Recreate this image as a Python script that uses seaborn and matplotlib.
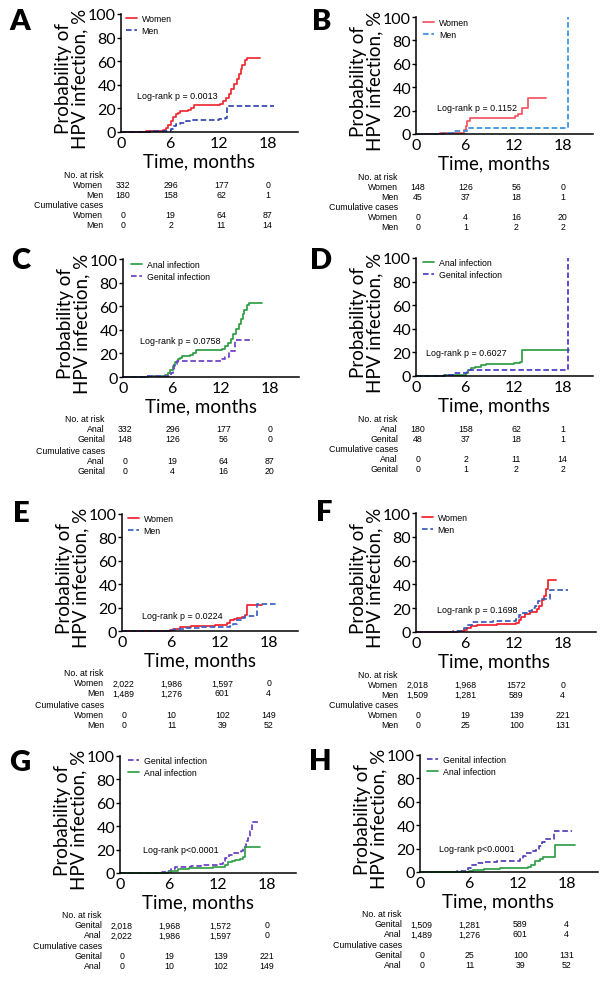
import numpy as np
import pandas as pd
import matplotlib
matplotlib.use("Agg")
import matplotlib.pyplot as plt
import seaborn as sns

sns.set_theme(style="white")
plt.rcParams['font.family'] = ['Lato', 'DejaVu Sans']
plt.rcParams['text.color'] = 'black'
plt.rcParams['axes.labelcolor'] = 'black'
plt.rcParams['xtick.color'] = 'black'
plt.rcParams['ytick.color'] = 'black'

# ---------------- data (cumulative probability of infection, %) ----------------
# sub-cohort 1 (panels A-D)
anal_w1_t = [0, 3.1, 4.7, 5.1, 5.5, 5.8, 6.1, 6.4, 6.7, 7.0, 7.3, 8.2, 8.6, 9.0, 12.2, 12.5, 12.9,
             13.2, 13.5, 13.9, 14.2, 14.5, 14.7, 14.9, 15.2, 15.4, 17.1]
anal_w1_v = [0, 0.5, 1, 2, 3.5, 6, 9, 12.5, 15, 16.5, 17.5, 18.5, 20.5, 22.5, 24, 26.5, 29,
             32, 36.5, 41, 45, 49, 53, 57, 61, 63, 63]
anal_m1_t = [0, 3.6, 5.5, 6.1, 6.4, 6.8, 7.3, 8.0, 8.6, 12.0, 12.7, 13.0, 18.8]
anal_m1_v = [0, 0.5, 1, 2.5, 5, 6.5, 8, 9.5, 10, 11, 12, 22, 22]
gen_w1_t = [0, 3.0, 5.5, 5.9, 6.1, 6.3, 6.6, 12.2, 12.5, 13.0, 13.7, 15.9]
gen_w1_v = [0, 0.5, 1, 3, 7, 11, 13.5, 15, 17, 22, 31, 31]
gen_m1_t = [0, 3.4, 4.5, 6.2, 18.7]
gen_m1_v = [0, 1, 2.5, 5.5, 100]
# sub-cohort 2 (panels E-H)
anal_w2_t = [0, 5.9, 6.2, 6.5, 7.1, 8.5, 9.8, 11.4, 12.4, 12.9, 13.3, 13.7, 14.1, 14.7, 15.1, 15.3, 17.2]
anal_w2_v = [0, 1, 1.5, 2, 3, 4, 4.5, 5, 5.5, 7, 9, 10, 11, 12, 14, 22, 22]
anal_m2_t = [0, 6.0, 6.2, 6.5, 7.8, 9.8, 12.2, 13.2, 13.6, 14.1, 14.7, 15.1, 16.6, 19.0]
anal_m2_v = [0, 0.5, 1, 2, 2.5, 3, 3.5, 4, 6, 9, 11, 12.5, 23.5, 23.5]
gen_w2_t = [0, 5.1, 5.5, 5.9, 6.3, 6.7, 7.5, 8.7, 9.9, 11.5, 12.3, 12.6, 12.9, 13.4, 14.0, 14.8,
            15.1, 15.4, 15.7, 16.0, 16.2, 17.2]
gen_w2_v = [0, 0.5, 0.8, 1.5, 3, 5, 5.5, 6, 6.5, 7, 7.5, 10, 13, 15, 17, 19, 22, 27, 30, 36, 44, 44]
gen_m2_t = [0, 4.6, 5.3, 5.9, 6.3, 6.9, 8.0, 9.5, 12.3, 12.6, 13.0, 13.6, 14.2, 14.6, 15.0, 15.3, 16.5, 18.7]
gen_m2_v = [0, 0.5, 1, 3, 6, 8, 8.5, 9, 11, 14, 16, 18, 20, 22, 26, 28, 35, 35]

x_ticks = [0, 6, 12, 18]
y_ticks = [0, 20, 40, 60, 80, 100]

# risk tables
A_rows = ["Women", "Men"]
A_risk = [["332", "296", "177", "0"], ["180", "158", "62", "1"]]
A_cum = [["0", "19", "64", "87"], ["0", "2", "11", "14"]]
B_rows = ["Women", "Men"]
B_risk = [["148", "126", "56", "0"], ["45", "37", "18", "1"]]
B_cum = [["0", "4", "16", "20"], ["0", "1", "2", "2"]]
C_rows = ["Anal", "Genital"]
C_risk = [["332", "296", "177", "0"], ["148", "126", "56", "0"]]
C_cum = [["0", "19", "64", "87"], ["0", "4", "16", "20"]]
D_rows = ["Anal", "Genital"]
D_risk = [["180", "158", "62", "1"], ["48", "37", "18", "1"]]
D_cum = [["0", "2", "11", "14"], ["0", "1", "2", "2"]]
E_rows = ["Women", "Men"]
E_risk = [["2,022", "1,986", "1,597", "0"], ["1,489", "1,276", "601", "4"]]
E_cum = [["0", "10", "102", "149"], ["0", "11", "39", "52"]]
F_rows = ["Women", "Men"]
F_risk = [["2,018", "1,968", "1572", "0"], ["1,509", "1,281", "589", "4"]]
F_cum = [["0", "19", "139", "221"], ["0", "25", "100", "131"]]
G_rows = ["Genital", "Anal"]
G_risk = [["2,018", "1,968", "1,572", "0"], ["2,022", "1,986", "1,597", "0"]]
G_cum = [["0", "19", "139", "221"], ["0", "10", "102", "149"]]
H_rows = ["Genital", "Anal"]
H_risk = [["1,509", "1,281", "589", "4"], ["1,489", "1,276", "601", "4"]]
H_cum = [["0", "25", "100", "131"], ["0", "11", "39", "52"]]

SOLID = "-"
DASH = (0, (3.2, 1.6))

W, H = 600, 995
fig = plt.figure(figsize=(W / 100, H / 100), dpi=100)
SMALL = ['Liberation Sans', 'DejaVu Sans']
PXM = 8.15  # pixels per month


def panel(rect, letter, letter_xy, curves, lr_text, lr_pos, leg_xy, rows, risk, cum, col_x=(0.2, 6.1, 12.3, 18.0)):
    l, t, w, h = rect
    ax = fig.add_axes([l / W, 1 - (t + h) / H, w / W, h / H])
    for (tt, vv, name, col, ls) in curves:
        df = pd.DataFrame({"t": tt, "v": vv})
        sns.lineplot(data=df, x="t", y="v", ax=ax, drawstyle="steps-post", estimator=None, sort=False,
                     color=col, linestyle=ls, linewidth=1.25, label=name, clip_on=False)
    ax.set_xlim(0, w / PXM)
    ax.set_ylim(0, 100)
    ax.set_xticks(x_ticks)
    ax.set_yticks(y_ticks)
    ax.tick_params(axis='y', length=3, width=1, pad=0.5, labelsize=11.5, color='black', left=True)
    ax.tick_params(axis='x', length=0, pad=3, labelsize=11.5)
    for s in ['left', 'bottom']:
        ax.spines[s].set_color('black')
        ax.spines[s].set_linewidth(1.1)
    sns.despine(ax=ax)
    ax.set_xlabel("Time, months", fontsize=13.5)
    ax.xaxis.set_label_coords(9.6 / (w / PXM), -29 / h)
    ax.xaxis.label.set_va('center')
    ax.set_ylabel("Probability of\nHPV infection, %", fontsize=13.5, linespacing=0.95)
    ax.yaxis.set_label_coords(-49 / w, 0.46)
    ax.yaxis.label.set_va('center')
    handles, labels = ax.get_legend_handles_labels()
    ax.legend(handles, labels, loc='upper left', bbox_to_anchor=(leg_xy[0] / w, 1 - leg_xy[1] / h),
              frameon=False, prop={'family': SMALL, 'size': 6.3}, handlelength=1.3, handletextpad=0.5,
              labelspacing=0.3, borderpad=0, borderaxespad=0)
    ax.text(lr_pos[0], lr_pos[1], lr_text, fontsize=6.4, family=SMALL, ha='left', va='center')
    tr = ax.get_xaxis_transform()
    lab_x = -18 / PXM
    offs = [42, 52, 62, 73, 83, 93]
    ax.text(lab_x, -offs[0] / h, "No. at risk", transform=tr, ha='right', va='center', fontsize=6.3, family=SMALL)
    ax.text(lab_x, -offs[3] / h, "Cumulative cases", transform=tr, ha='right', va='center', fontsize=6.3, family=SMALL)
    for block, (o1, o2) in ((risk, (offs[1], offs[2])), (cum, (offs[4], offs[5]))):
        for ri, oy in enumerate((o1, o2)):
            ax.text(lab_x, -oy / h, rows[ri], transform=tr, ha='right', va='center', fontsize=6.3, family=SMALL)
            for ci, val in enumerate(block[ri]):
                ax.text(col_x[ci], -oy / h, val, transform=tr, ha='center', va='center', fontsize=6.3, family=SMALL)
    fig.text(letter_xy[0] / W, 1 - letter_xy[1] / H, letter, fontsize=21, fontweight='heavy',
             ha='center', va='center')
    return ax


RED = "#EE2B33"
panel((121, 15, 177, 118), "A", (20, 22),
      [(anal_w1_t, anal_w1_v, "Women", RED, SOLID),
       (anal_m1_t, anal_m1_v, "Men", "#3447B0", DASH)],
      "Log-rank p = 0.0013", (2.0, 31), (5, 0), A_rows, A_risk, A_cum)
panel((416, 18, 177, 117), "B", (322, 22),
      [(gen_w1_t, gen_w1_v, "Women", "#F25560", SOLID),
       (gen_m1_t, gen_m1_v, "Men", "#3C8DE0", DASH)],
      "Log-rank p = 0.1152", (2.6, 23), (7, 1), B_rows, B_risk, B_cum)
panel((123, 260, 176, 118), "C", (21, 261),
      [(anal_w1_t, anal_w1_v, "Anal infection", "#2E9E44", SOLID),
       (gen_w1_t, gen_w1_v, "Genital infection", "#6B3FC5", DASH)],
      "Log-rank p = 0.0758", (2.1, 31), (8, 1), C_rows, C_risk, C_cum)
panel((416, 259, 177, 118), "D", (321, 261),
      [(anal_m1_t, anal_m1_v, "Anal infection", "#2E9E44", SOLID),
       (gen_m1_t, gen_m1_v, "Genital infection", "#4A3BC8", DASH)],
      "Log-rank p = 0.6027", (1.2, 20), (7, 0), D_rows, D_risk, D_cum)
panel((122, 515, 176, 117), "E", (21, 514),
      [(anal_w2_t, anal_w2_v, "Women", "#F2202D", SOLID),
       (anal_m2_t, anal_m2_v, "Men", "#3A62C2", DASH)],
      "Log-rank p = 0.0224", (2.5, 13), (6, 0), E_rows, E_risk, E_cum)
panel((416, 514, 180, 119), "F", (324, 513),
      [(gen_w2_t, gen_w2_v, "Women", "#F2202D", SOLID),
       (gen_m2_t, gen_m2_v, "Men", "#3A5BB8", DASH)],
      "Log-rank p = 0.1698", (2.6, 19), (6, 0), F_rows, F_risk, F_cum)
panel((120, 757, 176, 117), "G", (20, 763),
      [(gen_w2_t, gen_w2_v, "Genital infection", "#6A3FC5", DASH),
       (anal_w2_t, anal_w2_v, "Anal infection", "#33A047", SOLID)],
      "Log-rank p<0.0001", (2.8, 20.5), (8, 0), G_rows, G_risk, G_cum)
panel((420, 756, 178, 117), "H", (320, 762),
      [(gen_m2_t, gen_m2_v, "Genital infection", "#4F3FB5", DASH),
       (anal_m2_t, anal_m2_v, "Anal infection", "#2EA04A", SOLID)],
      "Log-rank p<0.0001", (2.3, 20), (7, 0), H_rows, H_risk, H_cum)

fig.savefig("out.png", dpi=100)
